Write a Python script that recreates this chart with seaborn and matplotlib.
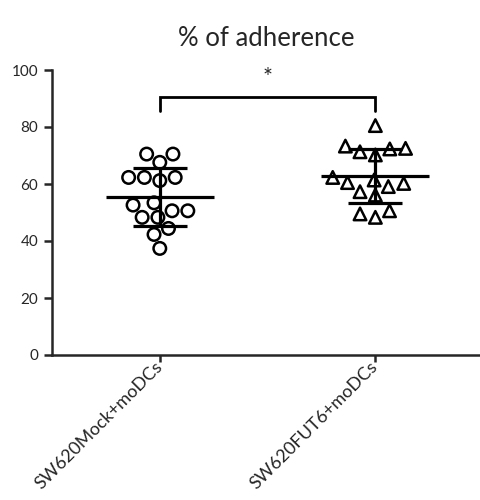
import numpy as np
import pandas as pd
import matplotlib
matplotlib.use("Agg")
import matplotlib.pyplot as plt
import seaborn as sns

categories = ["SW620Mock+moDCs", "SW620FUT6+moDCs"]
mock_values = [70.5, 70.5, 67.6, 62.3, 62.3, 62.3, 61.2, 52.6, 53.4, 50.6,
               50.6, 48.3, 48.3, 44.4, 42.3, 37.4]
fut6_values = [80.5, 73.3, 72.3, 70.2, 71.3, 72.5, 61.4, 60.2, 57.3, 56.1,
               59.1, 60.5, 62.3, 50.6, 48.3, 49.5]
y_ticks = [0, 20, 40, 60, 80, 100]
title = "% of adherence"
sig_label = "*"

sns.set_theme(style="ticks")
plt.rcParams["font.family"] = ["Lato", "DejaVu Sans"]

df = pd.DataFrame({
    "group": [categories[0]] * len(mock_values) + [categories[1]] * len(fut6_values),
    "value": mock_values + fut6_values,
})

fig = plt.figure(figsize=(4.81, 5.00), dpi=100)
ax = fig.add_axes([52 / 481, 1 - 355 / 500, 1 - 52 / 481, (355 - 70) / 500])

markers = ["o", "^"]
for cat, mk in zip(categories, markers):
    sub = df[df["group"] == cat]
    sns.swarmplot(data=sub, x="group", y="value", order=categories, ax=ax,
                  marker=mk, size=9, color="black", linewidth=0)

for coll in ax.collections:
    coll.set_facecolor("none")
    coll.set_edgecolor("black")
    coll.set_linewidth(1.8)

# mean and SD
for i, cat in enumerate(categories):
    vals = np.array(df.loc[df["group"] == cat, "value"])
    m = vals.mean()
    sd = vals.std(ddof=1)
    ax.hlines(m, i - 0.25, i + 0.25, color="black", linewidth=2.3, zorder=5)
    ax.vlines(i, m - sd, m + sd, color="black", linewidth=2.3, zorder=5)
    ax.hlines([m - sd, m + sd], i - 0.125, i + 0.125, color="black", linewidth=2.3, zorder=5)

# significance bracket
ax.plot([0, 0, 1, 1], [85.6, 90.6, 90.6, 85.6], color="black", linewidth=2.0,
        clip_on=False, solid_joinstyle="miter")
ax.text(0.5, 97.5, sig_label, ha="center", va="center", fontsize=17)

ax.set_xlim(-0.5, 1.49)
ax.set_ylim(0, 100)
ax.set_yticks(y_ticks)
ax.set_xlabel("")
ax.set_ylabel("")
ax.set_title(title, fontsize=18.5, pad=17)
sns.despine(ax=ax)
for s in ["left", "bottom"]:
    ax.spines[s].set_linewidth(1.8)
ax.tick_params(axis="y", length=6, width=1.8, labelsize=11, pad=4)
ax.tick_params(axis="x", length=5, width=1.8, labelsize=13, pad=2)
plt.setp(ax.get_xticklabels(), rotation=45, ha="right", va="center",
         rotation_mode="anchor")

fig.savefig("out.png", dpi=100)
